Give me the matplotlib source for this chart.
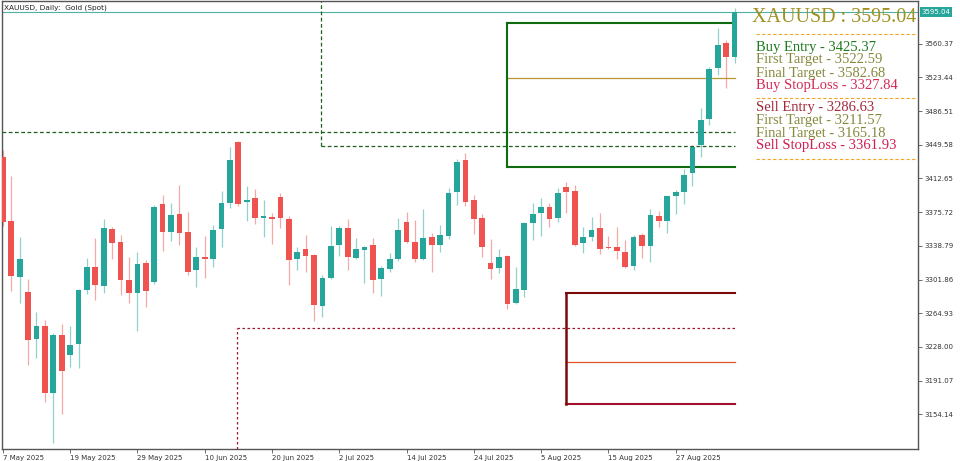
import numpy as np
import matplotlib.pyplot as plt
from matplotlib.transforms import blended_transform_factory

# daily XAUUSD candles, 7 May 2025 .. early Sep 2025
opens = [3436.5, 3366.3, 3304.9, 3288.2, 3236.7, 3250.9, 3177.8, 3241.0, 3219.1, 3231.2,
         3290.4, 3315.9, 3295.1, 3356.9, 3343.3, 3301.3, 3287.4, 3319.6, 3298.8, 3384.6,
         3354.3, 3373.7, 3354.3, 3312.3, 3326.9, 3324.0, 3356.9, 3386.0, 3452.9, 3387.1,
         3391.5, 3368.9, 3370.0, 3392.0, 3368.5, 3324.0, 3335.3, 3328.7, 3272.8, 3303.2,
         3339.7, 3358.0, 3325.8, 3334.2, 3339.7, 3302.4, 3313.4, 3324.3, 3365.2, 3343.3,
         3324.3, 3348.1, 3339.7, 3349.5, 3398.1, 3432.8, 3389.0, 3368.9, 3319.6, 3314.8,
         3327.6, 3275.8, 3290.4, 3364.1, 3375.1, 3381.0, 3368.9, 3403.6, 3398.9, 3342.2,
         3348.8, 3358.0, 3337.8, 3337.5, 3332.2, 3316.8, 3350.6, 3338.6, 3371.5, 3366.3,
         3393.7, 3398.1, 3418.3, 3449.3, 3477.5, 3533.3, 3560.7, 3546.1]
highs = [3443.8, 3415.3, 3348.8, 3302.4, 3265.9, 3257.5, 3243.0, 3253.1, 3250.9, 3291.5,
         3325.8, 3347.0, 3367.8, 3359.5, 3350.6, 3326.9, 3332.3, 3323.2, 3383.5, 3394.5,
         3386.0, 3405.4, 3376.2, 3337.8, 3349.5, 3361.6, 3399.2, 3447.4, 3454.0, 3404.3,
         3400.7, 3389.0, 3375.1, 3397.0, 3371.0, 3337.8, 3350.6, 3330.0, 3306.8, 3360.5,
         3360.5, 3367.8, 3347.0, 3339.0, 3347.0, 3317.0, 3330.6, 3368.9, 3375.5, 3367.1,
         3378.8, 3352.5, 3361.6, 3401.8, 3433.6, 3440.2, 3394.5, 3373.7, 3345.9, 3335.0,
         3328.5, 3315.3, 3364.5, 3385.4, 3390.9, 3385.4, 3401.8, 3409.1, 3405.4, 3359.1,
         3370.7, 3375.1, 3349.2, 3359.4, 3345.6, 3350.6, 3353.2, 3378.8, 3377.3, 3393.7,
         3400.0, 3422.7, 3449.3, 3489.5, 3535.1, 3577.2, 3564.4, 3599.1]
lows = [3360.0, 3289.3, 3275.8, 3208.2, 3215.5, 3168.0, 3122.7, 3154.5, 3206.3, 3204.5,
        3285.6, 3279.4, 3286.7, 3324.0, 3284.9, 3276.4, 3245.4, 3272.1, 3296.6, 3333.4,
        3344.4, 3339.7, 3306.8, 3294.0, 3303.2, 3315.9, 3337.8, 3379.9, 3382.4, 3366.3,
        3362.7, 3348.1, 3340.8, 3358.0, 3295.9, 3312.3, 3310.4, 3256.4, 3261.1, 3302.1,
        3327.6, 3312.3, 3324.0, 3297.7, 3287.4, 3283.8, 3310.4, 3322.5, 3342.0, 3320.7,
        3323.2, 3310.4, 3332.3, 3345.9, 3383.5, 3382.4, 3351.7, 3326.2, 3302.1, 3308.7,
        3269.2, 3275.0, 3283.0, 3345.2, 3349.5, 3359.1, 3365.2, 3375.1, 3338.5, 3331.3,
        3344.1, 3329.8, 3335.0, 3324.0, 3315.0, 3312.3, 3325.1, 3321.4, 3359.7, 3352.5,
        3373.7, 3384.6, 3404.3, 3436.5, 3471.2, 3526.0, 3511.4, 3539.5]
closes = [3364.6, 3306.0, 3324.7, 3235.6, 3250.9, 3177.8, 3241.0, 3201.9, 3230.1, 3290.4,
          3315.9, 3295.5, 3358.0, 3342.2, 3301.3, 3287.4, 3318.9, 3289.6, 3381.7, 3353.6,
          3372.6, 3352.5, 3310.4, 3326.9, 3324.0, 3356.1, 3386.0, 3432.8, 3384.6, 3389.0,
          3368.9, 3371.5, 3367.8, 3368.9, 3323.2, 3332.3, 3328.0, 3273.9, 3303.2, 3338.6,
          3358.0, 3326.9, 3335.0, 3337.8, 3301.3, 3314.1, 3324.0, 3356.1, 3343.3, 3324.3,
          3347.0, 3339.7, 3350.6, 3396.3, 3431.0, 3387.1, 3368.5, 3337.8, 3313.4, 3326.2,
          3274.7, 3291.1, 3363.5, 3373.3, 3381.0, 3368.2, 3397.0, 3398.1, 3339.7, 3348.8,
          3356.1, 3335.3, 3336.1, 3333.1, 3315.9, 3348.5, 3338.6, 3372.6, 3366.3, 3393.4,
          3397.4, 3416.4, 3447.4, 3476.7, 3532.2, 3558.9, 3545.4, 3595.04]

date_ticks = [0, 8, 16, 24, 32, 40, 48, 56, 64, 72, 80]
date_labels = ["7 May 2025", "19 May 2025", "29 May 2025", "10 Jun 2025", "20 Jun 2025",
               "2 Jul 2025", "14 Jul 2025", "24 Jul 2025", "5 Aug 2025", "15 Aug 2025",
               "27 Aug 2025"]
price_ticks = [3560.37, 3523.44, 3486.51, 3449.58, 3412.65, 3375.72, 3338.79,
               3301.86, 3264.93, 3228.00, 3191.07, 3154.14]
last_price = 3595.04

buy_levels = {"entry": 3425.37, "first": 3522.59, "final": 3582.68, "stop": 3327.84}
sell_levels = {"entry": 3286.63, "first": 3211.57, "final": 3165.18, "stop": 3361.93}
range_high, range_low = 3463.2, 3448.2
range_start, low_line, low_start = 37.85, 3248.4, 27.9
buy_box_start, sell_box_start = 60, 67

UP, DN = "#26a69a", "#ef5350"

fig = plt.figure(figsize=(9.6, 4.61), dpi=100)
ax = fig.add_axes([2 / 960, 12 / 461, 916 / 960, 448 / 461])

n = len(opens)
x = np.arange(n)
o, h, l, c = map(np.array, (opens, highs, lows, closes))
cols = np.where(c >= o, UP, DN)
ax.vlines(x, l, h, colors=cols, lw=0.9, alpha=0.5, zorder=2)
body = np.maximum(np.abs(c - o), 0.9)
ax.bar(x, body, bottom=np.minimum(o, c), width=0.68, color=cols, lw=0, zorder=3)

last = n - 1
xmin = -0.1
ax.set_xlim(xmin, xmin + 916 / 8.41)
ax.set_ylim(3116.1, 3607.1)

# current price line
ax.axhline(last_price, color="#4fb0a4", lw=0.8, zorder=1)

# range lines (dashed green) and low line (dotted red)
ax.plot([xmin, last], [range_high, range_high], color="#1f5f1f", lw=0.9, ls=(0, (3, 2)))
ax.plot([range_start, last], [range_low, range_low], color="#1f5f1f", lw=0.9, ls=(0, (3, 2)))
ax.plot([range_start, range_start], [range_low, 3607.1], color="#1f5f1f", lw=0.9, ls=(0, (3, 2)))
ax.plot([low_start, last], [low_line, low_line], color="#a0182a", lw=0.9, ls=(0, (2, 2)))
ax.plot([low_start, low_start], [3116.1, low_line], color="#a0182a", lw=0.9, ls=(0, (2, 2)))

# buy box
ax.plot([buy_box_start, last], [buy_levels["final"]] * 2, color="#0f6b0f", lw=1.5)
ax.plot([buy_box_start, last], [buy_levels["entry"]] * 2, color="#0f6b0f", lw=1.5)
ax.plot([buy_box_start, last], [buy_levels["first"]] * 2, color="#b8962e", lw=0.9)
ax.plot([buy_box_start, buy_box_start], [buy_levels["entry"], buy_levels["final"]],
        color="#0f6b0f", lw=1.5)

# sell box
ax.plot([sell_box_start, last], [sell_levels["entry"]] * 2, color="#7a0a0a", lw=1.5)
ax.plot([sell_box_start, last], [sell_levels["final"]] * 2, color="#a3102e", lw=1.5)
ax.plot([sell_box_start, last], [sell_levels["first"]] * 2, color="#e0572a", lw=0.9)
ax.plot([sell_box_start, sell_box_start], [sell_levels["final"], sell_levels["entry"]],
        color="#7a0a0a", lw=1.8)

# axes styling
for s in ax.spines.values():
    s.set_color("#555555")
    s.set_linewidth(1)
ax.yaxis.tick_right()
ax.set_yticks(price_ticks)
ax.set_yticklabels([f"{p:.2f}" for p in price_ticks])
ax.set_xticks(date_ticks)
ax.set_xticklabels(date_labels, ha="left")
ax.tick_params(axis="both", direction="out", length=3, width=0.6, color="#555555",
               labelsize=5, labelcolor="#333333", pad=1.5)

trans = blended_transform_factory(ax.transAxes, ax.transData)
ax.text(1.004, last_price, f"{last_price:.2f}", transform=trans, fontsize=5, color="white",
        va="center", ha="left",
        bbox=dict(boxstyle="square,pad=0.25", fc="#26a69a", ec="none"))

ax.text(0.002, 0.992, "XAUUSD, Daily:  Gold (Spot)", transform=ax.transAxes,
        fontsize=5.3, va="top", ha="left", color="#222222")

# info panel
serif = "Liberation Serif"
fig.text(752 / 960, 1 - 17 / 461, f"XAUUSD : {last_price:.2f}", fontsize=14.4, family=serif,
         color="#a09020", va="center", ha="left")
panel = [
    (47, f"Buy Entry - {buy_levels['entry']:.2f}", "#1e7a1e"),
    (60, f"First Target - {buy_levels['first']:.2f}", "#86883c"),
    (73, f"Final Target - {buy_levels['final']:.2f}", "#86883c"),
    (86, f"Buy StopLoss - {buy_levels['stop']:.2f}", "#d42a55"),
    (107.5, f"Sell Entry - {sell_levels['entry']:.2f}", "#a4283a"),
    (120, f"First Target - {sell_levels['first']:.2f}", "#86883c"),
    (133, f"Final Target - {sell_levels['final']:.2f}", "#86883c"),
    (146, f"Sell StopLoss - {sell_levels['stop']:.2f}", "#d01e50"),
]
for py, txt, col in panel:
    fig.text(756 / 960, 1 - py / 461, txt, fontsize=10.5, family=serif, color=col,
             va="center", ha="left")
for py in (34.5, 98.5, 159):
    fig.add_artist(plt.Line2D([756 / 960, 916 / 960], [1 - py / 461] * 2, color="#f5a623",
                              lw=0.8, ls=(0, (3, 2))))

fig.savefig("out.png", dpi=100)
